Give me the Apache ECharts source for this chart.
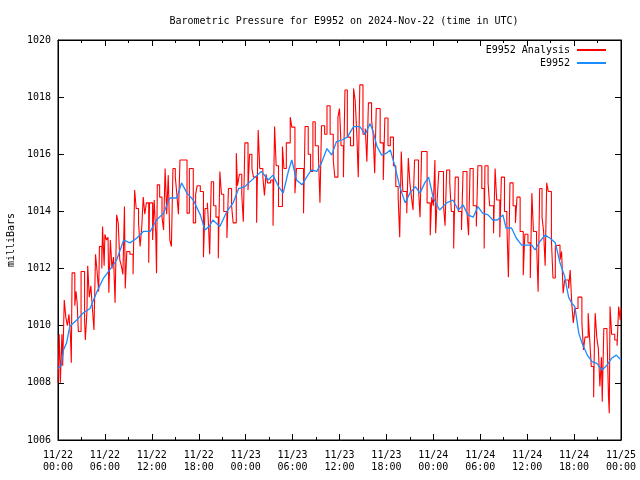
<!DOCTYPE html>
<html>
<head>
<meta charset="utf-8">
<script src="https://cdn.jsdelivr.net/npm/echarts@6/dist/echarts.min.js"></script>
<style>html,body{margin:0;padding:0;background:#fff}#c{width:640px;height:480px}</style>
</head>
<body>
<div id="c"></div>
<script>
// Hours since 2024-11-22 00:00 UTC
var xTickHours = [0,6,12,18,24,30,36,42,48,54,60,66,72];
var xTickLabels = ["11/22\n00:00","11/22\n06:00","11/22\n12:00","11/22\n18:00","11/23\n00:00","11/23\n06:00","11/23\n12:00","11/23\n18:00","11/24\n00:00","11/24\n06:00","11/24\n12:00","11/24\n18:00","11/25\n00:00"];

var redHours = [0.0,0.15,0.3,0.5,0.6,0.8,1.0,1.2,1.4,1.6,1.7,1.8,2.15,2.3,2.45,2.6,2.95,3.4,3.5,3.7,3.8,4.0,4.2,4.4,4.6,4.8,5.0,5.2,5.3,5.6,5.7,5.9,6.0,6.2,6.4,6.5,6.7,6.9,7.1,7.3,7.5,7.7,7.9,8.1,8.3,8.5,8.6,8.8,9.2,9.6,9.8,10.0,10.3,10.5,10.7,10.9,11.1,11.3,11.6,11.7,12.1,12.3,12.5,12.6,12.7,13.0,13.3,13.5,13.7,13.9,14.1,14.3,14.5,14.7,15.0,15.2,15.4,15.6,16.5,16.8,17.3,17.6,17.8,18.2,18.6,18.8,19.1,19.2,19.4,19.6,19.9,20.2,20.5,20.7,20.9,21.2,21.6,21.8,22.2,22.4,22.8,22.95,23.2,23.5,23.7,23.9,24.3,24.5,24.8,25.0,25.4,25.6,25.8,26.2,26.4,26.6,26.8,27.2,27.5,27.7,27.9,28.2,28.7,28.9,29.2,29.7,29.9,30.3,30.5,31.4,31.6,32.0,32.3,32.6,32.9,33.3,33.5,33.7,34.1,34.4,34.8,35.2,35.4,35.8,36.0,36.2,36.5,36.7,37.0,37.4,37.8,38.0,38.2,38.4,38.6,39.0,39.3,39.5,39.7,40.1,40.3,40.5,40.7,41.2,41.6,41.8,42.2,42.5,42.9,43.2,43.5,43.7,43.9,44.1,44.6,44.8,45.0,45.2,45.4,45.6,46.1,46.3,46.5,47.2,47.6,47.8,48.0,48.2,48.3,48.45,48.7,49.3,49.5,49.7,50.1,50.3,50.6,50.8,51.2,51.6,51.8,52.3,52.5,52.7,53.1,53.5,53.7,54.2,54.5,54.6,55.0,55.2,55.7,55.9,56.1,56.5,56.7,57.1,57.4,57.6,57.8,58.2,58.5,58.7,59.1,59.5,59.7,60.1,60.4,60.6,60.8,61.2,61.4,61.6,61.9,62.1,62.3,62.5,62.7,63.1,63.3,63.6,63.8,64.2,64.4,64.6,64.8,65.3,65.5,65.7,65.9,66.1,66.5,67.0,67.2,67.4,67.8,68.0,68.2,68.5,68.6,68.7,68.9,69.1,69.3,69.5,69.6,69.8,70.2,70.4,70.5,70.6,70.8,71.2,71.5,71.7,71.9,72.0];
var redValues = [1008.0,1009.7,1008.0,1009.7,1008.6,1010.9,1010.3,1010.0,1010.4,1009.6,1008.7,1011.85,1010.7,1011.2,1010.8,1009.8,1011.9,1010.2,1009.5,1010.5,1012.1,1011.0,1011.4,1010.6,1009.85,1012.5,1011.9,1011.2,1012.77,1012.0,1013.47,1012.1,1013.2,1013.0,1013.1,1011.15,1013.0,1012.0,1012.4,1010.8,1013.88,1013.6,1012.3,1012.1,1011.8,1014.17,1011.3,1012.6,1012.5,1011.8,1014.75,1014.1,1013.6,1012.77,1013.4,1014.5,1013.9,1014.3,1012.2,1014.3,1013.0,1014.4,1013.2,1011.84,1014.93,1014.5,1013.8,1013.35,1015.5,1013.9,1015.27,1013.0,1012.77,1015.5,1015.2,1014.6,1013.9,1015.8,1013.94,1015.5,1013.6,1014.6,1014.9,1014.7,1012.4,1014.1,1014.3,1013.8,1012.5,1015.04,1014.2,1013.8,1012.36,1015.4,1014.6,1014.0,1013.07,1014.8,1014.2,1013.6,1016.04,1014.9,1015.3,1014.6,1013.64,1016.4,1014.75,1016.0,1015.5,1015.2,1013.6,1016.85,1015.5,1015.2,1014.56,1015.3,1015.0,1015.1,1013.5,1016.97,1015.6,1014.17,1016.27,1015.5,1016.4,1017.3,1016.95,1014.64,1015.5,1013.94,1016.97,1016.0,1015.4,1017.14,1016.3,1016.0,1014.3,1017.0,1016.7,1017.7,1016.7,1015.8,1015.2,1017.3,1017.6,1016.3,1015.2,1018.25,1016.6,1016.3,1018.3,1017.9,1016.8,1015.2,1018.43,1016.7,1016.9,1015.74,1017.8,1017.2,1016.7,1015.34,1017.6,1016.4,1015.1,1017.27,1016.3,1016.6,1015.6,1014.87,1014.5,1013.1,1016.1,1014.7,1013.94,1015.87,1015.0,1014.5,1014.05,1015.8,1014.8,1013.8,1016.1,1014.3,1013.17,1014.5,1014.2,1015.8,1013.24,1014.2,1015.4,1014.2,1013.5,1015.45,1015.0,1014.0,1012.7,1015.2,1014.0,1013.35,1015.4,1014.0,1013.17,1015.5,1014.2,1013.47,1015.6,1014.8,1012.7,1015.6,1015.0,1014.2,1013.24,1015.5,1014.4,1013.1,1015.2,1014.0,1013.6,1011.7,1015.0,1014.2,1013.6,1014.5,1013.3,1011.77,1013.2,1012.9,1011.67,1014.64,1013.3,1012.9,1011.19,1014.8,1013.8,1013.3,1012.1,1015.0,1014.7,1013.0,1011.67,1012.8,1012.82,1012.3,1012.6,1011.14,1011.6,1011.3,1011.95,1010.8,1010.1,1010.6,1011.0,1010.1,1009.15,1009.6,1010.44,1009.5,1008.57,1007.5,1009.4,1010.44,1009.6,1009.2,1007.87,1008.9,1007.34,1009.9,1009.8,1007.5,1006.94,1010.67,1009.7,1009.5,1009.3,1010.67,1010.2,1010.6];

var blueHours = [0,0.4,0.7,1.1,1.5,2.4,3.2,4.1,4.9,5.8,6.6,7.5,8.4,9.2,10.1,10.9,11.8,12.6,13.5,14.3,15.2,15.8,16.5,17.3,18.2,18.8,19.4,19.8,20.7,21.6,22.4,23.1,23.9,25.2,26.0,26.9,27.5,28.2,28.8,29.5,29.9,30.5,31.2,31.8,32.4,33.1,33.7,34.4,35.0,35.6,36.3,37.0,37.8,38.6,39.3,39.9,40.3,40.8,41.4,42.0,42.5,43.1,43.7,44.4,45.0,45.7,46.3,46.9,47.4,48.0,48.8,49.7,50.5,51.2,51.8,52.4,53.1,53.7,54.3,55.0,55.6,56.2,56.9,57.3,58.0,58.6,59.3,59.9,60.6,61.0,61.6,62.3,62.9,63.6,64.2,64.8,65.3,65.7,66.1,66.6,67.0,67.7,68.3,68.9,69.6,70.2,70.8,71.4,72.0];
var blueValues = [1008.5,1008.6,1009.15,1009.4,1009.97,1010.2,1010.44,1010.6,1011.14,1011.66,1011.95,1012.3,1013.0,1012.9,1013.07,1013.3,1013.3,1013.7,1013.94,1014.47,1014.47,1015.0,1014.64,1014.4,1013.88,1013.35,1013.5,1013.7,1013.47,1014.0,1014.3,1014.8,1014.87,1015.2,1015.4,1015.1,1015.27,1014.87,1014.64,1015.45,1015.8,1015.1,1014.93,1015.2,1015.45,1015.4,1015.7,1016.2,1015.97,1016.44,1016.5,1016.6,1016.97,1016.97,1016.7,1017.08,1016.8,1016.27,1015.97,1016.04,1016.15,1015.57,1014.87,1014.3,1014.64,1014.87,1014.64,1015.0,1015.2,1014.47,1014.05,1014.3,1014.4,1014.05,1014.23,1013.88,1013.8,1014.17,1013.94,1013.88,1013.7,1013.7,1013.88,1013.42,1013.42,1013.07,1012.82,1012.82,1012.82,1012.65,1012.94,1013.17,1013.07,1012.9,1012.2,1011.72,1011.0,1010.79,1010.67,1009.74,1009.4,1008.97,1008.74,1008.68,1008.45,1008.62,1008.86,1008.97,1008.8];

function pairs(xs, ys){ return xs.map(function(x,i){ return [x, ys[i]]; }); }

var FONT = '"DejaVu Sans Mono", "Liberation Mono", monospace';
var chart = echarts.init(document.getElementById('c'), null, {renderer:'canvas'});
var tickCommon = {show:true, inside:true, length:6, lineStyle:{color:'#000', width:1}};
var minorCommon = {show:true, splitNumber:2, length:3, lineStyle:{color:'#000', width:1}};
chart.setOption({
  animation:false,
  backgroundColor:'#fff',
  textStyle:{fontFamily:FONT},
  title:{text:'Barometric Pressure for E9952 on 2024-Nov-22 (time in UTC)', left:339, textAlign:'center', top:11,
    textStyle:{fontFamily:FONT, fontSize:10, fontWeight:'normal', color:'#000'}},
  legend:{orient:'vertical', right:29, top:40, align:'right', itemWidth:29, itemHeight:2, itemGap:3,
    textStyle:{fontFamily:FONT, fontSize:10, color:'#000', padding:[0,2,0,0]},
    data:[{name:'E9952 Analysis', icon:'rect'},{name:'E9952', icon:'rect'}]},
  grid:{left:58, right:19, top:40, bottom:40, outerBoundsMode:'none', containLabel:false,
    show:true, borderColor:'#000', borderWidth:1, backgroundColor:'#fff'},
  xAxis:[{type:'value', min:0, max:72, interval:6, position:'bottom',
      axisLine:{show:true, onZero:false, lineStyle:{color:'#000'}},
      axisTick:tickCommon, minorTick:minorCommon, splitLine:{show:false},
      axisLabel:{color:'#000', fontFamily:FONT, fontSize:10, lineHeight:12, margin:9,
        formatter:function(v){ var i = xTickHours.indexOf(v); return i>=0 ? xTickLabels[i] : ''; }}},
    {type:'value', min:0, max:72, interval:6, position:'top',
      axisLine:{show:true, onZero:false, lineStyle:{color:'#000'}},
      axisTick:tickCommon, minorTick:minorCommon, splitLine:{show:false}, axisLabel:{show:false}}],
  yAxis:[{type:'value', min:1006, max:1020, interval:2, position:'left',
      name:'milliBars', nameLocation:'middle', nameGap:42, nameRotate:90,
      nameTextStyle:{color:'#000', fontFamily:FONT, fontSize:10},
      axisLine:{show:true, onZero:false, lineStyle:{color:'#000'}},
      axisTick:tickCommon, splitLine:{show:false},
      axisLabel:{color:'#000', fontFamily:FONT, fontSize:10, margin:7, formatter:function(v){ return String(v); }}},
    {type:'value', min:1006, max:1020, interval:2, position:'right',
      axisLine:{show:true, onZero:false, lineStyle:{color:'#000'}},
      axisTick:tickCommon, splitLine:{show:false}, axisLabel:{show:false}}],
  series:[
    {name:'E9952 Analysis', type:'line', step:'end', data:pairs(redHours, redValues), showSymbol:false, symbol:'none',
      lineStyle:{color:'#ff0000', width:1.1}, itemStyle:{color:'#ff0000'}, z:2},
    {name:'E9952', type:'line', data:pairs(blueHours, blueValues), showSymbol:false, symbol:'none',
      lineStyle:{color:'#1a8cff', width:1.3}, itemStyle:{color:'#1a8cff'}, z:3}
  ]
});
</script>
</body>
</html>
